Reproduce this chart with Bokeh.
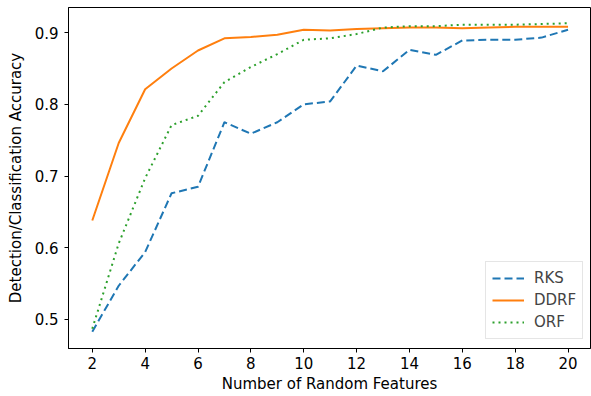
from bokeh.plotting import figure
from bokeh.models import Range1d, FixedTicker, Legend, LegendItem
from bokeh.embed import file_html
from bokeh.resources import INLINE

x = list(range(2, 21))
rks = [0.483, 0.547, 0.594, 0.676, 0.685, 0.775, 0.759, 0.775, 0.800, 0.804,
       0.854, 0.846, 0.876, 0.869, 0.889, 0.890, 0.890, 0.893, 0.904]
ddrf = [0.638, 0.746, 0.821, 0.850, 0.875, 0.892, 0.894, 0.897, 0.904, 0.903,
        0.905, 0.906, 0.907, 0.907, 0.906, 0.907, 0.908, 0.908, 0.908]
orf = [0.487, 0.606, 0.697, 0.771, 0.784, 0.831, 0.852, 0.870, 0.890, 0.892,
       0.898, 0.907, 0.909, 0.909, 0.911, 0.911, 0.911, 0.912, 0.913]
x_ticks = [2, 4, 6, 8, 10, 12, 14, 16, 18, 20]
y_ticks = [0.5, 0.6, 0.7, 0.8, 0.9]

FONT = "DejaVu Sans"

p = figure(width=591, height=396, output_backend="svg", toolbar_location=None,
           x_range=Range1d(1.1, 20.85), y_range=Range1d(0.4595, 0.935),
           min_border_left=68, min_border_right=1, min_border_top=7, min_border_bottom=48)
p.xgrid.visible = False
p.ygrid.visible = False
p.outline_line_color = "black"
p.outline_line_width = 1
p.outline_line_alpha = 1

r1 = p.line(x, rks, line_color="#1f77b4", line_width=2, line_dash="8 4")
r2 = p.line(x, ddrf, line_color="#ff7f0e", line_width=2)
r3 = p.line(x, orf, line_color="#2ca02c", line_width=2, line_dash="2 4")

for ax in (p.xaxis[0], p.yaxis[0]):
    ax.major_tick_in = 0
    ax.major_tick_out = 4
    ax.minor_tick_line_color = None
    ax.major_label_text_font = FONT
    ax.major_label_text_font_size = "15px"
    ax.major_label_text_color = "black"
    ax.axis_label_text_font = FONT
    ax.axis_label_text_font_size = "15px"
    ax.axis_label_text_font_style = "normal"
    ax.axis_label_text_color = "black"
    ax.axis_line_color = "black"
    ax.major_tick_line_color = "black"

p.xaxis[0].ticker = FixedTicker(ticks=x_ticks)
p.yaxis[0].ticker = FixedTicker(ticks=y_ticks)
p.xaxis[0].axis_label = "Number of Random Features"
p.yaxis[0].axis_label = "Detection/Classification Accuracy"
p.xaxis[0].major_label_standoff = 4
p.xaxis[0].axis_label_standoff = 3
p.yaxis[0].major_label_standoff = 6
p.yaxis[0].axis_label_standoff = 7

legend = Legend(items=[LegendItem(label="RKS", renderers=[r1]),
                       LegendItem(label="DDRF", renderers=[r2]),
                       LegendItem(label="ORF", renderers=[r3])],
                location=(417, 9))
legend.label_text_font = FONT
legend.label_text_font_size = "15px"
legend.glyph_width = 32
legend.glyph_height = 20
legend.label_height = 20
legend.label_standoff = 10
legend.spacing = 2
legend.padding = 6
legend.margin = 0
legend.border_line_color = "#cccccc"
legend.border_line_width = 1
legend.background_fill_alpha = 0.8
p.add_layout(legend)

open("out.html", "w").write(file_html(p, INLINE))
